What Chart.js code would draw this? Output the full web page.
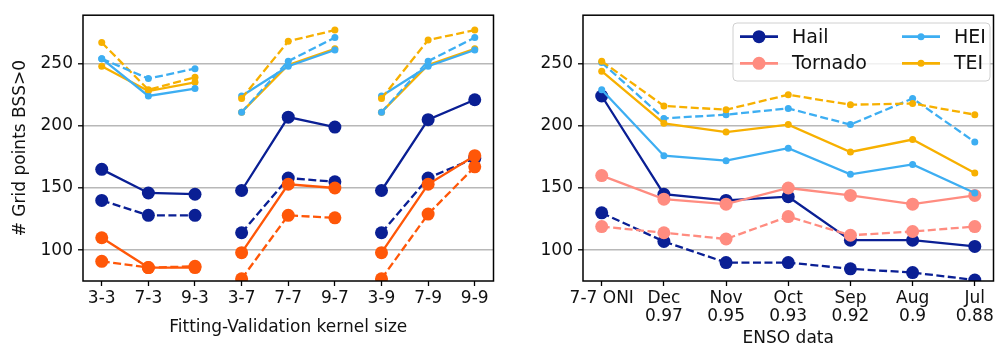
<!DOCTYPE html>
<html><head><meta charset="utf-8">
<script src="https://cdn.jsdelivr.net/npm/chart.js@4.4.1/dist/chart.umd.min.js"></script>
<style>
html,body{margin:0;padding:0;background:#fff;}
#wrap{position:relative;width:1000px;height:347px;}
canvas{position:absolute;top:0;}
#c1{left:0;} #c2{left:500px;}
</style></head><body>
<div id="wrap"><canvas id="c1" width="500" height="347"></canvas><canvas id="c2" width="500" height="347"></canvas></div>
<script>
// ---- data ----
const seriesNames = ['Hail', 'Tornado', 'HEI', 'TEI'];
const yTicks = [100, 150, 200, 250];

const kernelLabels = ['3-3','7-3','9-3','3-7','7-7','9-7','3-9','7-9','9-9'];
const hailKernel        = [165,146,145,148,207,199,148,205,221];
const hailKernelDash    = [140,128,128,114,158,155,114,158,174];
const tornadoKernel     = [110, 86, 86, 98,153,150, 98,153,176];
const tornadoKernelDash = [ 91, 86, 87, 77,128,126, 77,129,167];
const heiKernel         = [254,224,230,224,248,261,224,248,261];
const heiKernelDash     = [254,238,246,211,252,271,211,252,271];
const teiKernel         = [248,228,235,211,249,262,211,249,262];
const teiKernelDash     = [267,229,239,222,268,277,222,269,277];

const ensoLabels = [['7-7 ONI'],['Dec','0.97'],['Nov','0.95'],['Oct','0.93'],['Sep','0.92'],['Aug','0.9'],['Jul','0.88']];
const hailEnso        = [224,145,140,143,108,108,103];
const hailEnsoDash    = [130,107, 90, 90, 85, 82, 76];
const tornadoEnso     = [160,141,137,150,144,137,144];
const tornadoEnsoDash = [119,114,109,127,112,115,119];
const heiEnso         = [229,176,172,182,161,169,146];
const heiEnsoDash     = [251,206,209,214,201,222,187];
const teiEnso         = [244,202,195,201,179,189,162];
const teiEnsoDash     = [252,216,213,225,217,218,209];

// ---- styles ----
const FONT = 'DejaVu Sans';
const FS = 17;
const C_HAIL = '#0a1f94';
const C_TOR_L = '#ff5708';
const C_TOR_R = '#ff8c80';
const C_HEI = '#3daef2';
const C_TEI = '#f7b000';
const BIG = 6.5, SMALL = 3.5, LW = 2.3;
const gapAfter = [2, 5];

function mk(label, data, color, dashed, radius, gaps) {
  const ds = {
    label: label, data: data, borderColor: color, backgroundColor: color,
    pointBackgroundColor: color, pointBorderWidth: 0, pointRadius: radius,
    pointHoverRadius: radius, borderWidth: LW, tension: 0, fill: false,
    borderDash: dashed ? [8, 3.5] : []
  };
  if (gaps) {
    ds.segment = { borderColor: ctx => gaps.includes(ctx.p0DataIndex) ? 'rgba(0,0,0,0)' : undefined };
  }
  return ds;
}
function ordered(list) {
  list.forEach((d, i) => d.order = list.length - i);
  return list;
}

const boxPlugin = {
  id: 'box',
  afterDraw(chart) {
    const a = chart.chartArea, ctx = chart.ctx;
    ctx.save();
    ctx.strokeStyle = '#000'; ctx.lineWidth = 1.5;
    ctx.strokeRect(a.left, a.top, a.right - a.left, a.bottom - a.top);
    ctx.restore();
  }
};

const legendPlugin = {
  id: 'customLegend',
  afterDraw(chart) {
    const ctx = chart.ctx;
    const x0 = 233, y0 = 23, w = 257, h = 58, r = 4;
    ctx.save();
    ctx.fillStyle = 'rgba(255,255,255,0.8)';
    ctx.strokeStyle = '#d0d0d0'; ctx.lineWidth = 1;
    ctx.beginPath();
    ctx.moveTo(x0 + r, y0); ctx.lineTo(x0 + w - r, y0); ctx.arcTo(x0 + w, y0, x0 + w, y0 + r, r);
    ctx.lineTo(x0 + w, y0 + h - r); ctx.arcTo(x0 + w, y0 + h, x0 + w - r, y0 + h, r);
    ctx.lineTo(x0 + r, y0 + h); ctx.arcTo(x0, y0 + h, x0, y0 + h - r, r);
    ctx.lineTo(x0, y0 + r); ctx.arcTo(x0, y0, x0 + r, y0, r);
    ctx.closePath(); ctx.fill(); ctx.stroke();
    const items = [
      {name: seriesNames[0], color: C_HAIL, rad: BIG, lx: 240, ty: 36.7},
      {name: seriesNames[1], color: C_TOR_R, rad: BIG, lx: 240, ty: 63.3},
      {name: seriesNames[2], color: C_HEI, rad: SMALL, lx: 402, ty: 36.7},
      {name: seriesNames[3], color: C_TEI, rad: SMALL, lx: 402, ty: 63.3}
    ];
    ctx.font = '19px "' + FONT + '"';
    ctx.textBaseline = 'middle'; ctx.textAlign = 'left';
    items.forEach(it => {
      ctx.strokeStyle = it.color; ctx.lineWidth = 2.8;
      ctx.beginPath(); ctx.moveTo(it.lx, it.ty); ctx.lineTo(it.lx + 38, it.ty); ctx.stroke();
      ctx.fillStyle = it.color;
      ctx.beginPath(); ctx.arc(it.lx + 19, it.ty, it.rad, 0, Math.PI * 2); ctx.fill();
      ctx.fillStyle = '#111';
      ctx.fillText(it.name, it.lx + 52, it.ty + 1);
    });
    ctx.restore();
  }
};

function makeChart(canvas, labels, datasets, xmin, xmax, xTitle, xTitlePad, xTitleLH, yTitle) {
  return new Chart(canvas, {
    type: 'line',
    data: { labels: labels.map((_, i) => i), datasets: datasets },
    options: {
      responsive: false, animation: false,
      layout: { padding: { top: 14, right: 1, left: 0, bottom: 0 } },
      plugins: { legend: { display: false }, tooltip: { enabled: false } },
      scales: {
        x: {
          type: 'linear', min: xmin, max: xmax,
          afterBuildTicks: s => { s.ticks = labels.map((_, i) => ({ value: i })); },
          afterFit: s => { s.height = 66; },
          grid: { drawOnChartArea: false, drawTicks: true, tickLength: 5, tickColor: '#000', tickWidth: 1.3 },
          border: { display: false },
          ticks: {
            autoSkip: false, maxRotation: 0, minRotation: 0, padding: 3, color: '#111',
            font: { family: FONT, size: FS, lineHeight: 1.08 },
            callback: v => labels[v]
          },
          title: { display: true, text: xTitle, color: '#111',
                   font: { family: FONT, size: FS, lineHeight: xTitleLH },
                   padding: { top: 0, bottom: xTitlePad } }
        },
        y: {
          min: 75.2, max: 289,
          afterBuildTicks: s => { s.ticks = yTicks.map(v => ({ value: v })); },
          afterFit: s => { s.width = 83; },
          grid: { color: '#b8b8b8', lineWidth: 1.6, drawTicks: true, tickLength: 5, tickColor: '#000', tickWidth: 1.3 },
          border: { display: false },
          ticks: { padding: 5, color: '#111', font: { family: FONT, size: FS } },
          title: { display: !!yTitle, text: yTitle || '', color: '#111',
                   font: { family: FONT, size: FS }, padding: { top: 10, bottom: 0 } }
        }
      }
    },
    plugins: [boxPlugin].concat(canvas.id === 'c2' ? [legendPlugin] : [])
  });
}

const leftSets = ordered([
  mk('Hail', hailKernel, C_HAIL, false, BIG, gapAfter),
  mk('Hail dashed', hailKernelDash, C_HAIL, true, BIG, gapAfter),
  mk('Tornado', tornadoKernel, C_TOR_L, false, BIG, gapAfter),
  mk('Tornado dashed', tornadoKernelDash, C_TOR_L, true, BIG, gapAfter),
  mk('TEI', teiKernel, C_TEI, false, SMALL, gapAfter),
  mk('HEI', heiKernel, C_HEI, false, SMALL, gapAfter),
  mk('TEI dashed', teiKernelDash, C_TEI, true, SMALL, gapAfter),
  mk('HEI dashed', heiKernelDash, C_HEI, true, SMALL, gapAfter)
]);
const rightSets = ordered([
  mk('Hail', hailEnso, C_HAIL, false, BIG),
  mk('Hail dashed', hailEnsoDash, C_HAIL, true, BIG),
  mk('Tornado', tornadoEnso, C_TOR_R, false, BIG),
  mk('Tornado dashed', tornadoEnsoDash, C_TOR_R, true, BIG),
  mk('HEI', heiEnso, C_HEI, false, SMALL),
  mk('HEI dashed', heiEnsoDash, C_HEI, true, SMALL),
  mk('TEI', teiEnso, C_TEI, false, SMALL),
  mk('TEI dashed', teiEnsoDash, C_TEI, true, SMALL)
]);

makeChart(document.getElementById('c1'), kernelLabels, leftSets, -0.402, 8.402,
  'Fitting-Validation kernel size', 9.4, 1.2, '# Grid points BSS>0');
makeChart(document.getElementById('c2'), ensoLabels, rightSets, -0.301, 6.301,
  'ENSO data', 0, 1.0, null);
</script>
</body></html>
